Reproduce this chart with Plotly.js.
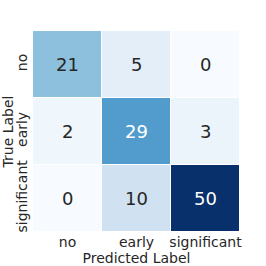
<!DOCTYPE html>
<html><head><meta charset="utf-8">
<script src="https://cdn.plot.ly/plotly-3.0.1.min.js"></script>
<style>html,body{margin:0;padding:0;background:#fff}#c{width:266px;height:266px}</style>
</head><body><div id="c"></div>
<script>
const labels = ["no", "early", "significant"];
const row_no = [21, 5, 0];
const row_early = [2, 29, 3];
const row_significant = [0, 10, 50];
const z = [row_no, row_early, row_significant];
const vmax = 50;

const blues = [
  [0, "#f7fbff"], [0.125, "#deebf7"], [0.25, "#c6dbef"], [0.375, "#9ecae1"],
  [0.5, "#6baed6"], [0.625, "#4292c6"], [0.75, "#2171b5"], [0.875, "#08519c"], [1, "#08306b"]
];

const annotations = [];
z.forEach((row, i) => row.forEach((v, j) => {
  annotations.push({
    x: labels[j], y: labels[i], text: String(v), showarrow: false,
    font: {family: "DejaVu Sans", size: 18, color: v / vmax > 0.5 ? "#ffffff" : "#262626"}
  });
}));

Plotly.newPlot("c", [{
  type: "heatmap", z: z, x: labels, y: labels,
  colorscale: blues, zmin: 0, zmax: vmax, showscale: false,
  xgap: 1, ygap: 1, hoverinfo: "none"
}], {
  width: 266, height: 266,
  margin: {l: 33, r: 26, t: 31, b: 34, pad: 0},
  paper_bgcolor: "#fff", plot_bgcolor: "#fff",
  font: {family: "DejaVu Sans", size: 14, color: "#262626"},
  xaxis: {
    showgrid: false, zeroline: false, ticks: "", ticklen: 0, tickfont: {size: 14},
    title: {text: "Predicted Label", font: {size: 14}, standoff: 0}
  },
  yaxis: {
    autorange: "reversed", showgrid: false, zeroline: false, ticks: "",
    tickangle: -90, tickfont: {size: 14}, ticklabelstandoff: 2,
    title: {text: "True Label", font: {size: 14}, standoff: 0}
  },
  annotations: annotations
}, {staticPlot: true});
</script></body></html>
